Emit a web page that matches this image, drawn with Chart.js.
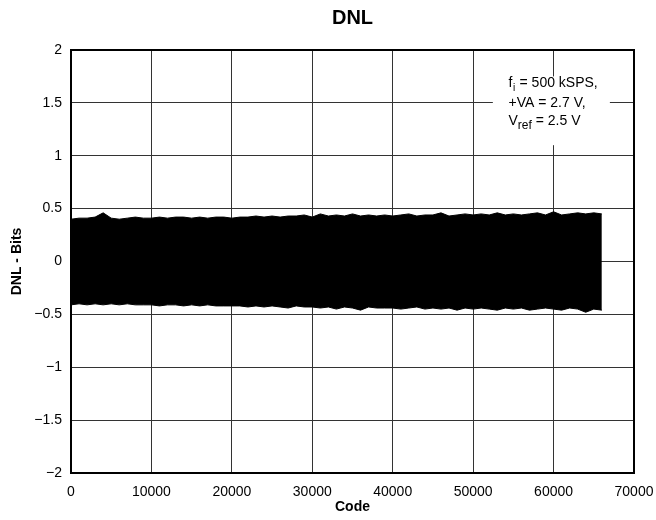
<!DOCTYPE html>
<html>
<head>
<meta charset="utf-8">
<script src="https://cdn.jsdelivr.net/npm/chart.js@4/dist/chart.umd.min.js"></script>
<style>
  body { margin: 0; background: #fff; }
</style>
</head>
<body>
<canvas id="dnlChart" width="656" height="520"></canvas>
<script>
// Codes sampled along the x axis (envelope read every 1000 codes)
const codes = [
    0, 1000, 2000, 3000, 4000, 5000, 6000, 7000, 8000, 9000,
    10000, 11000, 12000, 13000, 14000, 15000, 16000, 17000, 18000, 19000,
    20000, 21000, 22000, 23000, 24000, 25000, 26000, 27000, 28000, 29000,
    30000, 31000, 32000, 33000, 34000, 35000, 36000, 37000, 38000, 39000,
    40000, 41000, 42000, 43000, 44000, 45000, 46000, 47000, 48000, 49000,
    50000, 51000, 52000, 53000, 54000, 55000, 56000, 57000, 58000, 59000,
    60000, 61000, 62000, 63000, 64000, 65000, 66000
];

// Upper edge of the DNL band (bits)
const dnlMax = [
    0.40, 0.41, 0.41, 0.42, 0.46, 0.41, 0.40, 0.41, 0.42, 0.41,
    0.41, 0.42, 0.41, 0.42, 0.42, 0.41, 0.42, 0.41, 0.42, 0.42,
    0.41, 0.42, 0.42, 0.43, 0.42, 0.43, 0.42, 0.43, 0.43, 0.44,
    0.42, 0.45, 0.43, 0.44, 0.43, 0.45, 0.43, 0.44, 0.43, 0.44,
    0.43, 0.44, 0.45, 0.43, 0.44, 0.44, 0.46, 0.43, 0.44, 0.45,
    0.44, 0.45, 0.44, 0.46, 0.44, 0.45, 0.44, 0.45, 0.46, 0.44,
    0.47, 0.44, 0.45, 0.46, 0.45, 0.46, 0.45
];

// Lower edge of the DNL band (bits)
const dnlMin = [
    -0.41, -0.40, -0.41, -0.40, -0.41, -0.40, -0.41, -0.40, -0.41, -0.41,
    -0.41, -0.42, -0.41, -0.41, -0.42, -0.41, -0.42, -0.41, -0.42, -0.42,
    -0.42, -0.42, -0.43, -0.42, -0.43, -0.42, -0.43, -0.44, -0.42, -0.43,
    -0.43, -0.44, -0.43, -0.45, -0.43, -0.44, -0.46, -0.43, -0.44, -0.44,
    -0.44, -0.45, -0.44, -0.43, -0.45, -0.44, -0.45, -0.44, -0.46, -0.44,
    -0.45, -0.44, -0.45, -0.46, -0.44, -0.45, -0.44, -0.46, -0.45, -0.44,
    -0.45, -0.46, -0.44, -0.45, -0.48, -0.45, -0.46
];

const FONT = "'Liberation Sans', Arial, Helvetica, sans-serif";

// Title, frame and condition note drawn on top of the grid
const notePlugin = {
    id: "note",
    afterDraw(chart) {
        const { ctx, chartArea, scales } = chart;
        const x = scales.x, y = scales.y;
        ctx.save();

        // title centred over the plot area
        ctx.fillStyle = "#000";
        ctx.font = "bold 20px " + FONT;
        ctx.textAlign = "center";
        ctx.textBaseline = "middle";
        ctx.fillText("DNL", (chartArea.left + chartArea.right) / 2, 18);

        // white box behind the note
        const bx1 = x.getPixelForValue(52450), bx2 = x.getPixelForValue(67000);
        const by1 = y.getPixelForValue(1.75), by2 = y.getPixelForValue(1.1);
        ctx.fillStyle = "#fff";
        ctx.fillRect(bx1, by1, bx2 - bx1, by2 - by1);

        ctx.fillStyle = "#000";
        ctx.textAlign = "left";
        const tx = x.getPixelForValue(54400);
        const big = "14px " + FONT, small = "10px " + FONT;

        let ly = y.getPixelForValue(1.69);
        ctx.font = big;
        ctx.fillText("f", tx, ly);
        let w = ctx.measureText("f").width;
        ctx.font = small;
        ctx.fillText("i", tx + w + 0.5, ly + 5);
        w += ctx.measureText("i").width + 1;
        ctx.font = big;
        ctx.fillText(" = 500 kSPS,", tx + w, ly);

        ly = y.getPixelForValue(1.5);
        ctx.fillText("+VA = 2.7 V,", tx, ly);

        ly = y.getPixelForValue(1.33);
        ctx.fillText("V", tx, ly);
        w = ctx.measureText("V").width;
        ctx.font = "12px " + FONT;
        ctx.fillText("ref", tx + w, ly + 5);
        w += ctx.measureText("ref").width;
        ctx.font = big;
        ctx.fillText(" = 2.5 V", tx + w, ly);

        // thick frame
        ctx.strokeStyle = "#000";
        ctx.lineWidth = 2;
        ctx.strokeRect(chartArea.left, chartArea.top,
            chartArea.right - chartArea.left, chartArea.bottom - chartArea.top);
        ctx.restore();
    }
};

new Chart(document.getElementById("dnlChart").getContext("2d"), {
    type: "line",
    data: {
        datasets: [
            {
                label: "DNL max",
                data: codes.map((c, i) => ({ x: c, y: dnlMax[i] })),
                borderColor: "#000",
                borderWidth: 1,
                pointRadius: 0,
                tension: 0,
                fill: false,
            },
            {
                label: "DNL min",
                data: codes.map((c, i) => ({ x: c, y: dnlMin[i] })),
                borderColor: "#000",
                backgroundColor: "#000",
                borderWidth: 1,
                pointRadius: 0,
                tension: 0,
                fill: "-1",
            },
        ],
    },
    options: {
        responsive: false,
        animation: false,
        devicePixelRatio: 1,
        layout: { padding: { left: 0, right: 22, top: 50, bottom: 0 } },
        plugins: {
            legend: { display: false },
            tooltip: { enabled: false },
            title: { display: false },
        },
        scales: {
            x: {
                type: "linear",
                min: 0,
                max: 70000,
                afterFit: (s) => { s.height = 47; s.paddingLeft = 0; s.paddingRight = 0; },
                ticks: {
                    stepSize: 10000,
                    color: "#000",
                    padding: 11,
                    maxRotation: 0,
                    font: { family: FONT, size: 14 },
                    callback: (v) => String(v),
                },
                grid: { color: "#333", lineWidth: 1, drawTicks: false },
                border: { color: "#000", width: 2 },
                title: {
                    display: true,
                    text: "Code",
                    color: "#000",
                    font: { family: FONT, size: 14, weight: "bold" },
                    padding: { top: 0, bottom: 4 },
                },
            },
            y: {
                min: -2,
                max: 2,
                afterFit: (s) => { s.width = 71; s.paddingTop = 0; s.paddingBottom = 0; },
                ticks: {
                    stepSize: 0.5,
                    color: "#000",
                    padding: 9,
                    font: { family: FONT, size: 14 },
                    callback: (v) => (v < 0 ? "\u2212" + Math.abs(v) : String(v)),
                },
                grid: { color: "#333", lineWidth: 1, drawTicks: false },
                border: { color: "#000", width: 2 },
                title: {
                    display: true,
                    text: "DNL - Bits",
                    color: "#000",
                    font: { family: FONT, size: 14, weight: "bold" },
                    padding: { top: 9, bottom: 0 },
                },
            },
        },
    },
    plugins: [notePlugin],
});
</script>
</body>
</html>
